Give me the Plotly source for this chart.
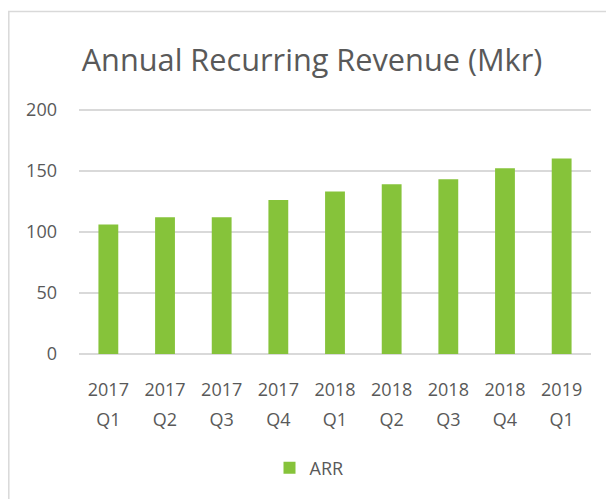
import plotly.graph_objects as go

categories = ["2017 Q1", "2017 Q2", "2017 Q3", "2017 Q4", "2018 Q1",
              "2018 Q2", "2018 Q3", "2018 Q4", "2019 Q1"]
years = ["2017", "2017", "2017", "2017", "2018", "2018", "2018", "2018", "2019"]
quarters = ["Q1", "Q2", "Q3", "Q4", "Q1", "Q2", "Q3", "Q4", "Q1"]
arr_values = [106, 112, 112, 126, 133, 139, 143, 152, 160]
y_ticks = [0, 50, 100, 150, 200]
y_max = 203

FONT = "Open Sans"
TXT = "#595959"
GRID = "#d9d9d9"
GREEN = "#86C33A"

# page body has an 8px margin, so figure coords = screen coords - 8
W, H = 606, 491
B = 145
grid_h = 244  # pixels between 0 and 200 gridlines
ph = grid_h * y_max / 200
L, R = 71, 23
T = H - B - ph
pw = W - L - R

fig = go.Figure()
fig.add_trace(go.Bar(x=categories, y=arr_values, name="ARR",
                     marker=dict(color=GREEN, line=dict(width=0))))
fig.add_trace(go.Scatter(x=categories, y=[None] * len(categories), xaxis="x2",
                         showlegend=False, hoverinfo="skip", mode="markers"))

fig.update_layout(
    width=W, height=H,
    margin=dict(l=L, r=R, t=T, b=B, autoexpand=False),
    paper_bgcolor="white", plot_bgcolor="white",
    font=dict(family=FONT, color=TXT, size=18),
    title=dict(text="Annual Recurring Revenue (Mkr)", x=304 / W, xanchor="center",
               y=1 - 52 / H, yanchor="middle",
               font=dict(family=FONT, size=30.7, color=TXT)),
    bargap=0.65,
    xaxis=dict(type="category", tickvals=categories, ticktext=years, automargin=False,
               showgrid=False, zeroline=False, showline=False, ticks="",
               ticklabelstandoff=23, tickfont=dict(size=18, color=TXT)),
    xaxis2=dict(type="category", overlaying="x", matches="x", side="bottom",
                tickvals=categories, ticktext=quarters, anchor="y", automargin=False,
                showgrid=False, zeroline=False, showline=False, ticks="",
                ticklabelstandoff=53, tickfont=dict(size=18, color=TXT)),
    yaxis=dict(range=[0, y_max], tickvals=y_ticks, showgrid=True, gridcolor=GRID,
               gridwidth=1.5, zeroline=True, zerolinecolor=GRID, zerolinewidth=1.5,
               showline=False, ticks="", ticklabelstandoff=21, automargin=False,
               tickfont=dict(size=18, color=TXT)),
    showlegend=True,
    legend=dict(orientation="h", x=(301 - L) / pw, xanchor="center",
                y=(H - B - 460) / ph, yanchor="middle",
                font=dict(size=18, color=TXT), itemwidth=30),
    shapes=[dict(type="rect", xref="paper", yref="paper",
                 x0=(0.8 - L) / pw, x1=(W + 20 - L) / pw,
                 y0=-(B + 20) / ph,
                 y1=(H - B - 4) / ph,
                 line=dict(color=GRID, width=1.5), layer="below")],
)

fig.write_html("out.html")
